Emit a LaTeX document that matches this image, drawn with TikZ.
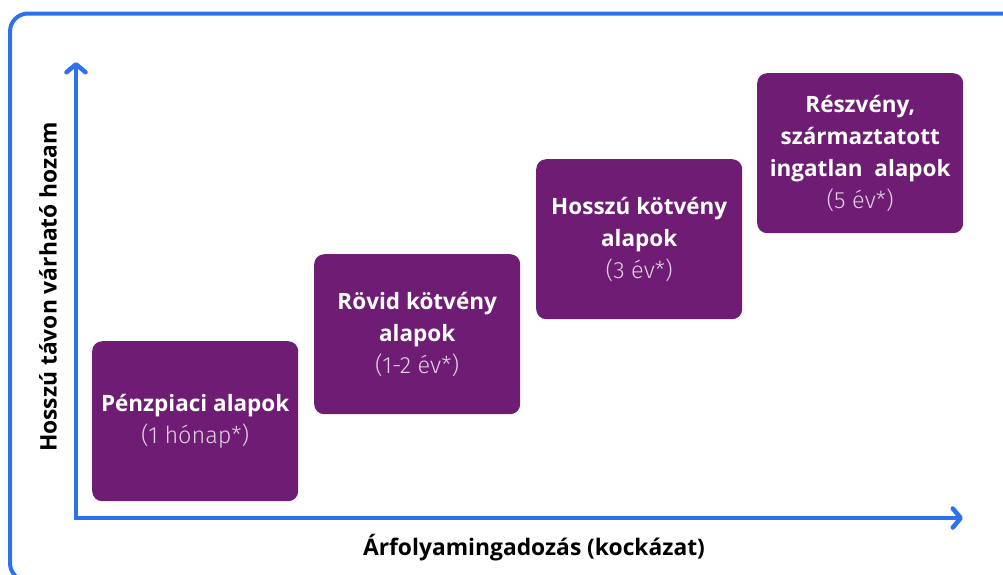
\documentclass[tikz,border=0pt]{standalone}
\usepackage{fontspec}
\setmainfont{Open Sans}
\newfontfamily\lightfont{Fira Sans Light}
\usetikzlibrary{arrows.meta}
\definecolor{axisblue}{HTML}{2D72EA}
\definecolor{fundpurple}{HTML}{6F1D74}
\definecolor{lighttext}{HTML}{E2CFE3}
\tikzset{
  fund/.style={fill=fundpurple, rounded corners=10pt, minimum width=206pt, minimum height=160pt,
    align=center, text=white, font=\bfseries\fontsize{22.5}{32}\selectfont, inner sep=0pt, anchor=north west},
  axislabel/.style={font=\bfseries\fontsize{22.8}{24}\selectfont, text=black},
  axisline/.style={draw=axisblue, line width=4.5pt, line join=miter,
    {Straight Barb[length=8pt,width=19pt,round]}-{Straight Barb[length=8pt,width=19pt,round]}}
}
\newcommand{\subline}[1]{{\color{lighttext}\lightfont\mdseries\fontsize{23.5}{32}\selectfont #1}}
\begin{document}
\begin{tikzpicture}[x=1pt,y=-1pt]
\useasboundingbox (0,0) rectangle (1003,574);
\begin{scope}
\clip (0,0) rectangle (1003,574);
\draw[axisblue, line width=4pt, rounded corners=18pt] (10,13.5) rectangle (1040,581);
\end{scope}
\coordinate (ytip) at (76,62);
\coordinate (origin) at (76,518);
\coordinate (xtip) at (963,518);
\draw[axisline] (ytip) -- (origin) -- (xtip);
\node[axislabel] (xlab) at (534,548) {Árfolyamingadozás (kockázat)};
\node[axislabel, rotate=90] (ylab) at (48,287) {Hosszú távon várható hozam};
\node[fund] (f1) at (92,341) {Pénzpiaci alapok\\\subline{(1 hónap*)}};
\node[fund] (f2) at (314,254) {Rövid kötvény\\alapok\\\subline{(1-2 év*)}};
\node[fund] (f3) at (536,159) {Hosszú kötvény\\alapok\\\subline{(3 év*)}};
\node[fund] (f4) at (757,73) {Részvény,\\származtatott\\ingatlan\ \ alapok\\\subline{(5 év*)}};
\end{tikzpicture}
\end{document}
